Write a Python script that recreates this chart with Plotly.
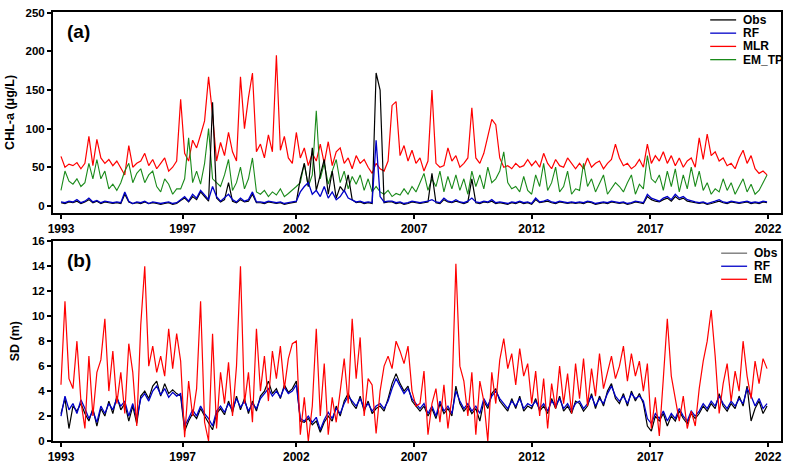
import plotly.graph_objects as go

# ---- tick labels (year marks along the sample index) ----
tick_years = ["1993", "1997", "2002", "2007", "2012", "2017", "2022"]
tick_index = [0, 30.5, 59, 88.5, 118, 147.75, 177.25]

# ---- panel (a): CHL-a (ug/L) ----
a_obs = [4, 3, 5, 4, 6, 3, 5, 8, 4, 6,
         3, 5, 4, 3, 4, 3, 15, 5, 3, 4,
         3, 5, 3, 4, 3, 2, 3, 4, 2, 3,
         7, 10, 5, 12, 8, 18, 12, 6, 134, 10,
         5, 8, 30, 6, 4, 8, 5, 6, 15, 4,
         4, 3, 5, 4, 3, 4, 2, 3, 4, 5,
         35, 55, 25, 75, 20, 40, 60, 15, 45, 10,
         25, 18, 40, 8, 4, 5, 3, 4, 3, 172,
         150, 4, 5, 5, 3, 4, 2, 3, 5, 4,
         3, 4, 5, 42, 4, 3, 8, 5, 4, 6,
         4, 3, 5, 35, 4, 3, 5, 4, 6, 3,
         4, 3, 2, 4, 3, 5, 3, 4, 2, 8,
         4, 5, 6, 4, 3, 5, 4, 3, 4, 3,
         4, 3, 5, 4, 2, 3, 4, 3, 5, 4,
         3, 4, 2, 3, 5, 4, 3, 12, 8, 6,
         5, 8, 10, 6, 12, 8, 10, 6, 5, 4,
         3, 4, 2, 3, 5, 6, 4, 3, 5, 4,
         3, 4, 5, 3, 4, 3, 5, 4]
a_rf = [5, 4, 6, 5, 8, 4, 6, 10, 5, 7,
        4, 6, 5, 4, 5, 4, 18, 6, 3, 5,
        4, 6, 3, 5, 4, 3, 4, 5, 3, 4,
        8, 12, 6, 15, 10, 20, 14, 8, 25, 12,
        6, 10, 15, 8, 5, 10, 6, 8, 18, 5,
        5, 4, 6, 5, 4, 5, 3, 4, 5, 6,
        18, 25, 30, 15, 20, 12, 25, 10, 18, 8,
        12, 20, 10, 8, 5, 6, 4, 5, 4, 85,
        12, 5, 6, 6, 4, 5, 3, 4, 6, 5,
        4, 5, 6, 8, 5, 4, 10, 6, 5, 8,
        5, 4, 6, 10, 5, 4, 6, 5, 8, 4,
        5, 4, 3, 5, 4, 6, 4, 5, 3, 10,
        5, 6, 8, 5, 4, 6, 5, 4, 5, 4,
        5, 4, 6, 5, 3, 4, 5, 4, 6, 5,
        4, 5, 3, 4, 6, 5, 4, 15, 10, 8,
        6, 10, 12, 8, 15, 10, 12, 8, 6, 5,
        4, 5, 3, 4, 6, 8, 5, 4, 6, 5,
        4, 5, 6, 4, 5, 4, 6, 5]
a_mlr = [64, 50, 54, 52, 56, 48, 55, 90, 52, 86,
         62, 55, 60, 52, 58, 48, 40, 78, 50, 55,
         58, 68, 52, 60, 48, 55, 62, 45, 50, 58,
         138, 68, 58, 85, 75, 92, 110, 167, 118, 58,
         82, 65, 95, 70, 58, 167, 100, 140, 172, 70,
         80, 62, 92, 70, 195, 72, 90, 62, 55, 95,
         62, 75, 52, 68, 58, 80, 55, 83, 52, 70,
         75, 55, 62, 48, 65, 55, 60, 50, 42, 55,
         48, 45, 58, 130, 135, 65, 78, 58, 72, 55,
         62, 45, 58, 150, 55, 50, 52, 75, 58, 65,
         50, 55, 62, 127, 62, 55, 68, 90, 112, 105,
         62, 50, 52, 48, 55, 50, 52, 60, 52, 58,
         50, 68, 55, 48, 60, 52, 50, 62, 55, 48,
         55, 48, 62, 50, 55, 58, 48, 55, 60, 80,
         62, 52, 55, 48, 52, 60, 50, 80, 55, 65,
         58, 70, 55, 65, 52, 62, 50, 58, 62, 50,
         88, 60, 93, 65, 70, 58, 62, 52, 55, 48,
         62, 72, 55, 65, 48, 42, 45, 40]
a_em_tp = [20, 45, 32, 28, 35, 25, 30, 55, 35, 60,
           35, 45, 22, 28, 20, 30, 45, 55, 30, 42,
           48, 30, 40, 45, 25, 18, 35, 28, 15, 22,
           22, 35, 88, 30, 45, 28, 55, 100, 35, 30,
           25, 40, 60, 20, 30, 50, 22, 35, 62, 18,
           15, 20, 12, 18, 14, 22, 12, 16, 20, 25,
           30, 55, 25, 40, 123, 35, 55, 28, 45, 60,
           30, 45, 22, 38, 28, 40, 20, 35, 18, 25,
           18, 15, 20, 12, 16, 14, 22, 15, 25, 18,
           30, 42, 20, 35, 25, 45, 18, 38, 22, 40,
           20, 35, 15, 45, 25, 40, 22, 50, 30, 35,
           45, 70, 30, 22, 25, 18, 38, 20, 15, 40,
           25, 55, 20, 30, 50, 18, 25, 45, 15, 22,
           20, 55, 25, 35, 18, 30, 40, 15, 22, 30,
           25, 18, 30, 40, 15, 28, 22, 65, 35, 30,
           40, 20, 45, 25, 48, 18, 40, 22, 50, 25,
           45, 20, 30, 15, 22, 18, 35, 20, 30, 15,
           25, 35, 18, 28, 15, 20, 30, 40]

# ---- panel (b): SD (m) ----
b_obs = [2.2, 3.4, 1.0, 2.8, 2.4, 3.0, 2.2, 1.6, 2.6, 1.2,
         2.6, 2.0, 3.2, 2.2, 3.6, 2.5, 3.0, 1.6, 2.8, 1.4,
         3.6, 4.0, 3.4, 4.4, 4.8, 3.6, 4.6, 3.8, 4.1, 3.8,
         3.6, 0.8, 1.6, 2.2, 1.8, 2.6, 2.0, 1.4, 0.9, 2.2,
         2.6, 2.1, 3.2, 2.3, 3.6, 2.5, 3.4, 2.2, 3.2, 2.4,
         3.6, 4.0, 4.8, 3.8, 4.2, 3.4, 4.5, 3.9, 4.2, 4.8,
         1.6, 1.5, 1.8, 1.3, 1.6, 0.7, 1.5, 2.0, 1.6, 2.8,
         2.0, 3.2, 3.8, 3.0, 2.6, 3.6, 2.4, 3.2, 2.2, 2.6,
         2.8, 2.4, 3.4, 4.6, 5.4, 4.6, 4.0, 4.4, 3.2, 2.8,
         2.4, 2.8, 2.0, 2.6, 1.8, 3.0, 2.2, 2.6, 2.0, 4.4,
         3.0, 2.4, 2.8, 2.2, 2.6, 1.6, 3.2, 2.6, 3.8, 4.2,
         3.2, 2.8, 2.4, 3.4, 2.6, 3.6, 2.4, 2.8, 2.6, 3.4,
         2.4, 2.8, 2.2, 3.4, 2.6, 3.6, 2.4, 2.8, 2.2, 3.2,
         3.0, 2.4, 2.8, 3.8, 2.6, 3.6, 2.8, 4.0, 4.6, 3.4,
         3.0, 3.8, 2.8, 4.0, 3.2, 3.8, 3.0, 1.2, 0.8, 2.0,
         1.6, 2.2, 1.2, 2.0, 1.6, 2.4, 1.8, 1.4, 2.2, 1.8,
         2.2, 2.8, 2.4, 3.0, 2.6, 3.8, 2.8, 2.4, 3.0, 2.6,
         3.6, 2.8, 4.4, 1.6, 2.6, 3.2, 2.2, 2.8]
b_rf = [2.0, 3.6, 2.5, 3.0, 2.2, 3.3, 2.6, 1.8, 2.4, 1.5,
        2.8, 2.2, 3.0, 2.5, 3.4, 2.8, 3.2, 2.0, 3.0, 1.8,
        3.4, 3.8, 3.2, 4.0, 4.4, 3.7, 4.2, 3.5, 3.9, 3.6,
        3.8, 1.2, 1.8, 2.5, 2.0, 2.8, 2.2, 1.8, 1.2, 2.4,
        2.8, 2.3, 3.0, 2.5, 3.4, 2.7, 3.2, 2.4, 3.0, 2.6,
        3.4, 3.8, 4.2, 3.6, 4.0, 3.5, 4.3, 3.8, 4.0, 4.5,
        1.8, 1.6, 2.0, 1.5, 1.9, 0.9, 1.7, 2.3, 1.8, 2.6,
        2.2, 3.0, 3.6, 3.2, 2.8, 3.4, 2.6, 3.0, 2.4, 2.8,
        3.0, 2.6, 3.2, 4.2, 5.0, 4.4, 3.8, 4.2, 3.4, 3.0,
        2.6, 3.0, 2.2, 2.8, 2.0, 3.2, 2.4, 2.8, 2.2, 4.0,
        3.2, 2.6, 3.0, 2.4, 2.8, 2.2, 3.4, 2.8, 3.6, 4.0,
        3.4, 3.0, 2.6, 3.2, 2.8, 3.4, 2.6, 3.0, 2.8, 3.2,
        2.6, 3.0, 2.4, 3.2, 2.8, 3.4, 2.6, 3.0, 2.4, 3.0,
        3.2, 2.6, 3.0, 3.6, 2.8, 3.4, 3.0, 3.8, 4.4, 3.6,
        3.2, 3.6, 3.0, 3.8, 3.4, 3.6, 3.2, 1.8, 1.4, 2.2,
        1.8, 2.4, 1.6, 2.2, 1.8, 2.6, 2.0, 1.6, 2.4, 2.0,
        2.4, 3.0, 2.6, 3.2, 2.8, 3.6, 3.0, 2.6, 3.2, 2.8,
        3.4, 3.0, 4.2, 3.6, 2.8, 3.4, 2.6, 3.0]
b_em = [4.5, 11.2, 5.0, 4.2, 8.0, 3.2, 1.0, 6.8, 2.0, 5.5,
        6.5, 9.8, 4.0, 7.2, 3.0, 5.5, 2.2, 7.8, 5.5, 1.2,
        9.3, 14.0, 6.0, 7.6, 5.5, 6.8, 5.2, 9.0, 5.8, 8.6,
        6.4, 0.3, 4.8, 2.0, 4.2, 11.2, 1.5, 0.0, 8.6, 1.0,
        5.5, 3.0, 6.3, 2.0, 6.0, 14.0, 3.0, 5.5, 1.5, 9.0,
        4.0, 6.8, 3.2, 7.2, 5.0, 7.6, 4.2, 6.6, 7.8, 8.0,
        0.5, 3.5, 0.0, 2.8, 9.0, 2.0, 6.2, 0.5, 3.5, 1.5,
        4.0, 6.6, 3.0, 9.8, 5.0, 8.3, 2.0, 5.0, 4.5, 0.6,
        4.0, 6.0, 6.8, 5.8, 8.0, 7.2, 6.2, 7.6, 4.0, 2.8,
        3.0, 5.6, 0.5, 3.0, 4.2, 1.5, 4.5, 1.0, 3.5, 14.2,
        6.0, 4.8, 2.0, 5.5, 0.5, 4.8, 3.2, 0.0, 5.5, 3.0,
        6.5, 8.2, 5.8, 7.0, 4.5, 7.4, 5.2, 6.2, 3.0, 5.6,
        2.0, 5.0, 1.0, 4.6, 2.6, 6.0, 3.0, 5.4, 2.2, 6.2,
        3.4, 6.6, 2.8, 5.8, 3.6, 7.0, 4.2, 5.6, 6.8, 5.0,
        6.0, 7.6, 4.8, 7.0, 5.2, 6.4, 4.0, 6.2, 1.0, 3.5,
        0.4, 5.0, 9.8, 5.2, 3.4, 1.6, 3.6, 1.0, 2.4, 1.2,
        4.2, 6.4, 8.0, 10.5, 6.8, 2.2, 4.6, 6.2, 3.2, 5.6,
        4.0, 8.0, 5.2, 3.4, 6.4, 4.6, 6.6, 5.8]

# legend labels
legend_a = ["Obs", "RF", "MLR", "EM_TP"]
legend_b = ["Obs", "RF", "EM"]

idx = list(range(len(a_mlr)))

BLACK = "#000000"
BLUE = "#0000c8"
RED = "#ff0000"
GREEN = "#1a8a1a"
FONT = "Liberation Sans, Arial, sans-serif"

fig = go.Figure()

# panel (a) traces (draw order: MLR, EM_TP, Obs, RF)
fig.add_trace(go.Scatter(x=idx, y=a_mlr, name="MLR", mode="lines", line=dict(color=RED, width=1.2),
                         xaxis="x", yaxis="y"))
fig.add_trace(go.Scatter(x=idx, y=a_em_tp, name="EM_TP", mode="lines", line=dict(color=GREEN, width=1.1),
                         xaxis="x", yaxis="y"))
fig.add_trace(go.Scatter(x=idx, y=a_obs, name="Obs", mode="lines", line=dict(color=BLACK, width=1.2),
                         xaxis="x", yaxis="y"))
fig.add_trace(go.Scatter(x=idx, y=a_rf, name="RF", mode="lines", line=dict(color=BLUE, width=1.3),
                         xaxis="x", yaxis="y"))

# panel (b) traces
fig.add_trace(go.Scatter(x=idx, y=b_obs, name="Obs", mode="lines", line=dict(color=BLACK, width=1.2),
                         xaxis="x2", yaxis="y2"))
fig.add_trace(go.Scatter(x=idx, y=b_rf, name="RF", mode="lines", line=dict(color=BLUE, width=1.3),
                         xaxis="x2", yaxis="y2"))
fig.add_trace(go.Scatter(x=idx, y=b_em, name="EM", mode="lines", line=dict(color=RED, width=1.2),
                         xaxis="x2", yaxis="y2"))

axis_common = dict(showgrid=False, zeroline=False, showline=True, linecolor="black", linewidth=2,
                   mirror=True, ticks="outside", ticklen=4, tickwidth=1.5, tickcolor="black")
xfont = dict(family=FONT, size=12, color="black", weight="bold")
yfont = dict(family=FONT, size=11.5, color="black", weight="bold")

fig.update_layout(
    width=789, height=470,
    margin=dict(l=53, r=6, t=8, b=28),
    paper_bgcolor="white", plot_bgcolor="white",
    font=dict(family=FONT, color="black"),
    showlegend=False,
    xaxis=dict(domain=[0, 1], anchor="y", range=[-2, 180.5], tickmode="array",
               tickvals=tick_index, ticktext=tick_years, tickfont=xfont, **axis_common),
    yaxis=dict(domain=[0.532, 1.0], anchor="x", range=[-9, 251], tickmode="array",
               tickvals=[0, 50, 100, 150, 200, 250], tickfont=yfont,
               title=dict(text="CHL-a (μg/L)", font=dict(family=FONT, size=12.5, weight="bold"), standoff=8),
               **axis_common),
    xaxis2=dict(domain=[0, 1], anchor="y2", range=[-2, 180.5], tickmode="array",
                tickvals=tick_index, ticktext=tick_years, tickfont=xfont, **axis_common),
    yaxis2=dict(domain=[0, 0.4654], anchor="x2", range=[0, 16], tickmode="array",
                tickvals=[0, 2, 4, 6, 8, 10, 12, 14, 16], tickfont=yfont,
                title=dict(text="SD (m)", font=dict(family=FONT, size=12.5, weight="bold"), standoff=10),
                **axis_common),
)

# manual legends (compact spacing as in the reference)
W, H, L, B = 730.0, 434.0, 53.0, 442.0
def px_x(px):
    return (px - L) / W
def px_y(py):
    return (B - py) / H

colors_a = [BLACK, BLUE, RED, GREEN]
for k, (lab, col) in enumerate(zip(legend_a, colors_a)):
    yy = 16 + 13.4 * k
    fig.add_shape(type="line", xref="paper", yref="paper", x0=px_x(712), x1=px_x(738),
                  y0=px_y(yy), y1=px_y(yy), line=dict(color=col, width=1.3))
    fig.add_annotation(text=lab, xref="paper", yref="paper", x=px_x(743), y=px_y(yy),
                       xanchor="left", yanchor="middle", showarrow=False,
                       font=dict(family=FONT, size=12, weight="bold", color="black"))

colors_b = ["#707070", BLUE, RED]
for k, (lab, col) in enumerate(zip(legend_b, colors_b)):
    yy = 252 + 13.2 * k
    fig.add_shape(type="line", xref="paper", yref="paper", x0=px_x(723), x1=px_x(749),
                  y0=px_y(yy), y1=px_y(yy), line=dict(color=col, width=1.3))
    fig.add_annotation(text=lab, xref="paper", yref="paper", x=px_x(754), y=px_y(yy),
                       xanchor="left", yanchor="middle", showarrow=False,
                       font=dict(family=FONT, size=12, weight="bold", color="black"))

fig.add_annotation(text="(a)", xref="paper", yref="paper", x=px_x(79), y=px_y(28), xanchor="center",
                   yanchor="middle", showarrow=False, font=dict(family=FONT, size=19, weight="bold"))
fig.add_annotation(text="(b)", xref="paper", yref="paper", x=px_x(79), y=px_y(259), xanchor="center",
                   yanchor="middle", showarrow=False, font=dict(family=FONT, size=19, weight="bold"))

fig.write_html("out.html", config={"displayModeBar": False},
               post_script="document.body.style.margin='0';")
